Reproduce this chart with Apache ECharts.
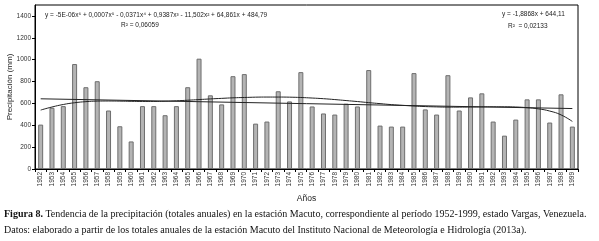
<!DOCTYPE html>
<html><head><meta charset="utf-8">
<script src="https://cdn.jsdelivr.net/npm/echarts@6/dist/echarts.min.js"></script>
<style>html,body{margin:0;padding:0;background:#fff}#c{width:599px;height:241px}</style>
</head><body><div id="c"></div>
<script>
const years = ['1952','1953','1954','1955','1956','1957','1958','1959','1960','1961','1962','1963','1964','1965','1966','1967','1968','1969','1970','1971','1972','1973','1974','1975','1976','1977','1978','1979','1980','1981','1982','1983','1984','1985','1986','1987','1988','1989','1990','1991','1992','1993','1994','1995','1996','1997','1998','1999'];
const precipitation = [406,560,575,960,748,803,535,391,252,575,575,492,575,748,1009,674,591,849,868,415,434,711,618,886,572,508,498,597,572,905,397,388,388,877,545,498,858,535,655,692,434,305,452,637,637,425,683,388];
const polyTrend = [539,567,590,606,616,621,622,621,619,618,618,620,624,629,635,641,646,651,654,657,658,658,657,654,649,643,635,626,617,607,598,589,582,576,571,568,566,566,567,568,569,569,567,561,550,530,495,435];
const linearTrend = [642,null,null,null,null,null,null,null,null,null,null,null,null,null,null,null,null,null,null,null,null,null,null,null,null,null,null,null,null,null,null,null,null,null,null,null,null,null,null,null,null,null,null,null,null,null,null,553];
const yTicks = [0,200,400,600,800,1000,1200,1400];
const polyEq = 'y = -5E-06x⁶ + 0,0007x⁵ - 0,0371x⁴ + 0,9387x³ - 11,502x² + 64,861x + 484,79';
const polyR2 = 'R² = 0,06059';
const linEq = 'y = -1,8868x + 644,11';
const linR2 = 'R²  = 0,02133';
const yName = 'Precipitación (mm)';
const xName = 'Años';
const capBold = 'Figura 8.';
const capLine1 = ' Tendencia de la precipitación (totales anuales) en la estación Macuto, correspondiente al período 1952-1999, estado Vargas, Venezuela.';
const capLine2 = 'Datos: elaborado a partir de los totales anuales de la estación Macuto del Instituto Nacional de Meteorología e Hidrología (2013a).';

const narrow = '"Liberation Sans Narrow", "Arial Narrow", "Liberation Sans", sans-serif';
const serif = '"Liberation Serif", "DejaVu Serif", serif';
const chart = echarts.init(document.getElementById('c'), null, {renderer:'canvas'});
chart.setOption({
  animation:false,
  grid:{left:35,right:21,top:5,bottom:72,containLabel:false,outerBoundsMode:'none',show:true,borderColor:'#000',borderWidth:1,backgroundColor:'transparent'},
  xAxis:{type:'category',data:years,boundaryGap:true,
    axisLine:{lineStyle:{color:'#000',width:1}},
    axisTick:{show:true,length:3,lineStyle:{color:'#000'},alignWithLabel:false},
    axisLabel:{rotate:90,interval:0,fontSize:6.5,fontFamily:narrow,color:'#333',margin:3},
    name:xName,nameLocation:'middle',nameGap:25,nameTextStyle:{fontFamily:narrow,fontSize:8.5,color:'#222'}},
  yAxis:{type:'value',min:0,max:1500,interval:200,
    axisLine:{show:true,lineStyle:{color:'#000',width:1}},
    axisTick:{show:true,length:3,lineStyle:{color:'#000'}},
    splitLine:{show:false},
    axisLabel:{showMaxLabel:false,fontSize:6.5,fontFamily:narrow,color:'#333',margin:4,
      formatter:v=>yTicks.includes(v)?String(v):''}},
  series:[
    {type:'bar',data:precipitation,barWidth:5,itemStyle:{color:'#b4b4b4',borderColor:'#6e6e6e',borderWidth:1},z:2},
    {type:'line',data:polyTrend,smooth:true,showSymbol:false,symbol:'none',lineStyle:{color:'#222',width:1},z:3},
    {type:'line',data:linearTrend,connectNulls:true,showSymbol:false,symbol:'none',lineStyle:{color:'#222',width:1},z:3}
  ],
  graphic:[
    {type:'text',x:10,y:87,rotation:Math.PI/2,style:{text:yName,font:'8px '+narrow,fill:'#222',align:'center',verticalAlign:'middle'}},
    {type:'text',left:45,top:12,style:{text:polyEq,font:'6.5px '+narrow,fill:'#222'}},
    {type:'text',left:121,top:22,style:{text:polyR2,font:'6.5px '+narrow,fill:'#222'}},
    {type:'text',left:502,top:11,style:{text:linEq,font:'6.5px '+narrow,fill:'#222'}},
    {type:'text',left:508,top:23,style:{text:linR2,font:'6.5px '+narrow,fill:'#222'}},
    {type:'text',left:4,top:209,style:{text:'{b|'+capBold+'}{n|'+capLine1+'}',rich:{b:{fontFamily:serif,fontWeight:'bold',fontSize:10,fill:'#111'},n:{fontFamily:serif,fontSize:10,fill:'#111'}}}},
    {type:'text',left:4,top:225,style:{text:capLine2,font:'10px '+serif,fill:'#111'}}
  ]
});
</script></body></html>
